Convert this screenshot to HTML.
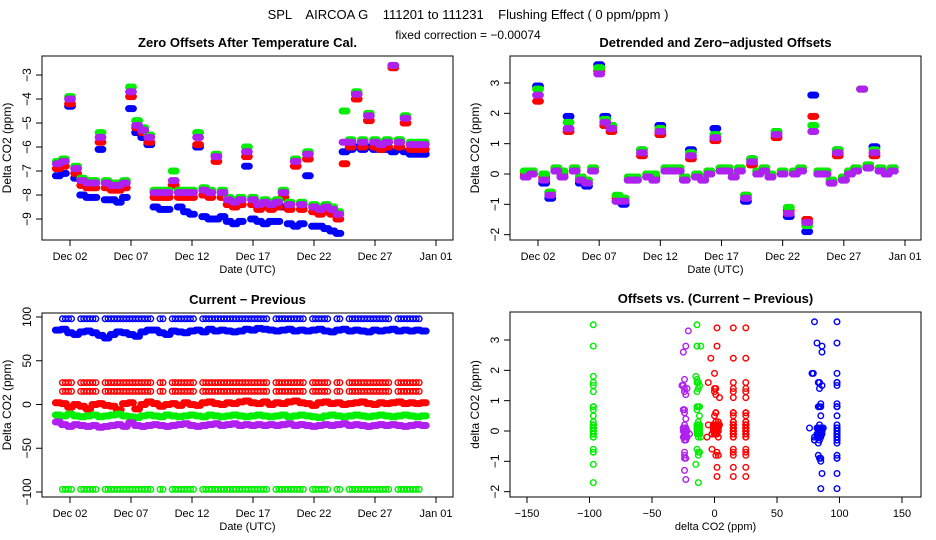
<!DOCTYPE html>
<html><head><meta charset="utf-8"><style>
html,body{margin:0;padding:0;background:#fff;}
svg{display:block;font-family:"Liberation Sans",sans-serif;}
.pre{white-space:pre;}
</style></head><body>
<svg id="chart" width="936" height="540" viewBox="0 0 936 540">
<text class="pre" x="468" y="19" text-anchor="middle" font-size="13">SPL    AIRCOA G    111201 to 111231    Flushing Effect ( 0 ppm/ppm )</text>
<text x="468" y="39" text-anchor="middle" font-size="12">fixed correction = −0.00074</text>
</svg>
<script>
const days=[1,1.5,2,2.5,3,3.5,4,4.5,5,5.5,6,6.5,7,7.5,8,8.5,9,9.5,10,10.5,11,11.5,12,12.5,13,13.5,14,14.5,15,15.5,16,16.5,17,17.5,18,18.5,19,19.5,20,20.5,21,21.5,22,22.5,23,23.5,24,24.5,25,25.5,26,26.5,27,27.5,28,28.5,29,29.5,30,30.5,31];
const dateTickDays=[2,7,12,17,22,27,32];
const dateTickLabels=["Dec 02","Dec 07","Dec 12","Dec 17","Dec 22","Dec 27","Jan 01"];
// Panel 1: zero offsets
const p1Blue=[-7.2,-7.1,-4.3,-7.3,-8.0,-8.1,-8.1,-6.1,-8.2,-8.2,-8.3,-8.1,-4.4,-5.4,-5.6,-5.9,-8.5,-8.6,-8.6,-7.6,-8.5,-8.7,-8.8,-6.0,-8.9,-9.0,-9.0,-8.9,-9.1,-9.2,-9.1,-6.8,-9.0,-9.1,-9.2,-9.1,-9.1,-8.5,-9.2,-9.3,-9.2,-7.2,-9.3,-9.3,-9.4,-9.5,-9.6,-6.2,-6.1,-6.0,-6.1,-6.0,-6.1,-6.1,-6.1,-6.2,-6.1,-6.2,-6.3,-6.3,-6.3];
const p1Red=[-6.9,-6.8,-4.2,-7.1,-7.6,-7.7,-7.7,-5.8,-7.7,-7.8,-7.8,-7.7,-3.9,-5.2,-5.4,-5.8,-8.1,-8.1,-8.1,-7.6,-8.1,-8.1,-8.1,-5.9,-8.0,-8.1,-6.6,-8.1,-8.4,-8.5,-8.4,-6.4,-8.4,-8.6,-8.5,-8.6,-8.5,-8.1,-8.6,-6.8,-8.6,-6.5,-8.7,-8.8,-8.7,-8.8,-9.0,-6.7,-6.0,-4.0,-6.0,-4.9,-6.0,-6.1,-6.0,-2.7,-6.0,-5.0,-6.1,-6.1,-6.1];
const p1Green=[-6.6,-6.5,-3.9,-6.8,-7.3,-7.4,-7.4,-5.4,-7.4,-7.5,-7.5,-7.4,-3.5,-4.9,-5.2,-5.5,-7.8,-7.8,-7.8,-7.0,-7.8,-7.8,-7.8,-5.4,-7.7,-7.8,-6.3,-7.8,-8.1,-8.2,-8.1,-6.0,-8.1,-8.3,-8.2,-8.3,-8.2,-7.8,-8.3,-6.5,-8.3,-6.2,-8.4,-8.5,-8.4,-8.5,-8.7,-4.5,-5.7,-3.7,-5.7,-4.6,-5.7,-5.8,-5.7,-2.6,-5.7,-4.7,-5.8,-5.8,-5.8];
const p1Purple=[-6.7,-6.6,-4.0,-6.9,-7.4,-7.5,-7.5,-5.6,-7.5,-7.6,-7.6,-7.5,-3.7,-5.1,-5.3,-5.6,-7.9,-7.9,-7.9,-7.4,-7.9,-7.9,-7.9,-5.6,-7.8,-7.9,-6.4,-7.9,-8.2,-8.3,-8.2,-6.2,-8.2,-8.4,-8.3,-8.4,-8.3,-7.9,-8.4,-6.6,-8.4,-6.3,-8.5,-8.6,-8.5,-8.6,-8.8,-5.8,-5.8,-3.8,-5.8,-4.7,-5.8,-5.9,-5.8,-2.6,-5.8,-4.8,-5.9,-5.9,-5.9];
const p1YTicks=[-9,-8,-7,-6,-5,-4,-3];
// Panel 2: detrended offsets
const p2Blue=[-0.1,0,2.9,-0.3,-0.8,0.1,-0.1,1.9,0.1,-0.3,-0.4,0.1,3.6,1.9,1.6,-0.9,-1.0,-0.2,-0.2,0.8,-0.1,-0.2,1.6,0.1,0.1,0.1,-0.2,0.8,-0.1,-0.2,0,1.5,0.1,0.1,-0.1,0.1,-0.9,0.5,0,0.1,-0.1,1.4,0,-1.4,0,0.1,-1.9,2.6,0,0,-0.3,0.8,-0.2,0,0.1,2.8,0.2,0.9,0.1,0,0.1];
const p2Red=[0,0.1,2.4,-0.1,-0.6,0.2,0,1.4,0.2,-0.1,-0.2,0.2,3.4,1.6,1.4,-0.8,-0.8,-0.1,-0.1,0.6,0,-0.1,1.3,0.2,0.2,0.2,-0.1,0.5,0,-0.1,0.1,1.1,0.2,0.2,0,0.2,-0.7,0.3,0.1,0.2,0,1.2,0.1,-1.2,0.1,0.2,-1.5,1.9,0.1,0.1,-0.2,0.6,-0.1,0.1,0.2,2.8,0.3,0.6,0.2,0.1,0.2];
const p2Green=[0.1,0.1,2.8,0,-0.6,0.2,0.1,1.7,0.2,-0.1,-0.2,0.2,3.5,1.8,1.6,-0.7,-0.8,-0.1,-0.1,0.8,0,0,1.5,0.2,0.2,0.2,-0.1,0.7,0,-0.1,0.1,1.3,0.2,0.2,0,0.2,-0.7,0.5,0.1,0.2,0,1.4,0.1,-1.1,0.1,0.2,-1.7,1.6,0.1,0.1,-0.2,0.8,-0.1,0.1,0.2,2.8,0.3,0.8,0.2,0.1,0.2];
const p2Purple=[-0.1,0,2.6,-0.2,-0.7,0.1,-0.1,1.5,0.1,-0.2,-0.3,0.1,3.3,1.7,1.5,-0.9,-0.9,-0.2,-0.2,0.7,-0.1,-0.2,1.4,0.1,0.1,0.1,-0.2,0.6,-0.1,-0.2,0,1.2,0.1,0.1,-0.1,0.1,-0.8,0.4,0,0.1,-0.1,1.3,0,-1.3,0,0.1,-1.6,1.4,0,0,-0.3,0.7,-0.2,0,0.1,2.8,0.2,0.7,0.1,0,0.1];
const p2YTicks=[-2,-1,0,1,2,3];
// Panel 3: current - previous
const p3Blue=[85,86,82,80,83,84,82,79,76,80,83,82,80,78,83,85,85,82,80,84,83,82,84,85,83,86,84,85,84,83,84,86,85,87,86,85,84,85,86,84,85,84,85,86,84,83,85,86,84,85,84,83,85,84,85,86,84,85,84,85,84];
const p3Red=[2,1,-3,0,-2,-5,0,1,-1,-2,-6,1,2,-5,0,3,1,-2,0,1,-1,2,0,-1,2,3,1,0,2,1,3,4,2,1,3,0,2,1,3,4,2,1,-1,2,3,1,2,0,1,2,3,1,0,2,1,2,3,1,2,1,2];
const p3Green=[-12,-13,-11,-13,-14,-13,-12,-14,-13,-12,-11,-13,-14,-15,-13,-12,-13,-14,-12,-13,-14,-13,-12,-13,-14,-12,-13,-14,-13,-12,-13,-14,-13,-12,-13,-14,-13,-12,-14,-13,-12,-13,-14,-15,-13,-12,-13,-14,-13,-12,-13,-14,-13,-12,-13,-14,-13,-12,-13,-14,-13];
const p3Purple=[-20,-23,-25,-23,-24,-25,-24,-26,-25,-24,-23,-25,-21,-24,-25,-24,-23,-24,-25,-24,-23,-22,-24,-25,-24,-23,-22,-24,-23,-22,-24,-23,-24,-23,-24,-23,-24,-23,-22,-24,-23,-24,-25,-24,-23,-24,-23,-22,-24,-23,-24,-25,-24,-23,-24,-23,-24,-25,-24,-23,-24];
const outlierDays=[1.5,2,3,3.5,4,5,5.5,6,6.5,7,7.5,8,8.5,9.5,10.5,11,11.5,12,13,13.5,14,14.5,15,15.5,16,16.5,17,17.5,18,19,19.5,20,20.5,21,22,22.5,23,24,25,25.5,26,26.5,27,27.5,28,29,29.5,30,30.5];
const outlierLevels=[98,25,15,-97];
const outlierColorIdx=[0,1,1,2];
const p3YTicks=[-100,-50,0,50,100];
const p4XTicks=[-150,-100,-50,0,50,100,150];

const colors=["#0000ff","#ff0000","#00ee00","#b020f0"];
const colorNames=["blue","red","green","purple"];
const svg=document.getElementById('chart');
const NS="http://www.w3.org/2000/svg";
function el(tag,attrs,parent){const e=document.createElementNS(NS,tag);for(const k in attrs)e.setAttribute(k,attrs[k]);(parent||svg).appendChild(e);return e;}
function lin(d0,d1,r0,r1){return v=>r0+(v-d0)*(r1-r0)/(d1-d0);}

const panels=[
 {key:"zero-offsets",box:[42,56,453,240],title:"Zero Offsets After Temperature Cal.",x:lin(2,32,70,436),y:lin(-3,-9,75,219),yt:p1YTicks,ylab:"Delta CO2 (ppm)",xlab:"Date (UTC)",dates:true},
 {key:"detrended-offsets",box:[510,56,921,240],title:"Detrended and Zero−adjusted Offsets",x:lin(2,32,538,905),y:lin(0,3,174,83),yt:p2YTicks,ylab:"Delta CO2 (ppm)",xlab:"Date (UTC)",dates:true},
 {key:"current-previous",box:[42,313,453,497],title:"Current − Previous",x:lin(2,32,70,436),y:lin(100,-100,317,492),yt:p3YTicks,ylab:"Delta CO2 (ppm)",xlab:"Date (UTC)",dates:true},
 {key:"offsets-vs-diff",box:[510,312,921,497],title:"Offsets vs. (Current − Previous)",x:lin(-150,150,527,902),y:lin(0,3,431,340),yt:p2YTicks,ylab:"delta CO2 (ppm)",xlab:"delta CO2 (ppm)",dates:false}
];

panels.forEach(p=>{
 const g=el('g',{});
 
 
 p.g=g;
 const [x0,y0,x1,y1]=p.box;
 const t=el('text',{x:(x0+x1)/2,y:y0-9,'text-anchor':'middle','font-size':13,'font-weight':'bold'},g);
 t.textContent=p.title;
 
 
 p.plot=el('g',{},g);
 
 
 const b=el('rect',{x:x0,y:y0,width:x1-x0,height:y1-y0,fill:'none',stroke:'#000','stroke-width':1},g);
 
 
 const ya=el('g',{},g);
 
 
 p.yt.forEach(v=>{const yy=p.y(v);
  el('line',{x1:x0,x2:x0-6,y1:yy,y2:yy,stroke:'#000'},ya);
  const tl=el('text',{x:x0-11,y:yy,'text-anchor':'middle','font-size':12,transform:`rotate(-90 ${x0-11} ${yy})`},ya);
  tl.textContent=v<0?'−'+(-v):String(v);
  
  
 });
 const yl=el('text',{x:x0-31,y:(y0+y1)/2,'text-anchor':'middle','font-size':12,transform:`rotate(-90 ${x0-31} ${(y0+y1)/2})`},g);
 yl.textContent=p.ylab;
 
 
 const xa=el('g',{},g);
 
 
 const tv=p.dates?dateTickDays:p4XTicks;
 tv.forEach((v,i)=>{const xx=p.x(v);
  el('line',{x1:xx,x2:xx,y1:y1,y2:y1+6,stroke:'#000'},xa);
  const tl=el('text',{x:xx,y:y1+20,'text-anchor':'middle','font-size':11},xa);
  tl.textContent=p.dates?dateTickLabels[i]:(v<0?'−'+(-v):String(v));
  
  
 });
 const xl=el('text',{x:(x0+x1)/2,y:y1+33,'text-anchor':'middle','font-size':11},g);
 xl.textContent=p.xlab;
 
 
});

function pt(p,px,py,ci){
 const c=el('circle',{cx:px.toFixed(1),cy:py.toFixed(1),r:2.8,fill:'none',stroke:colors[ci],'stroke-width':1.4},p.plot);
 
 
}
const spread=[-0.2,-0.1,0,0.1,0.2];
function band(p,ds,vs,ci){
 ds.forEach((d,i)=>spread.forEach(s=>pt(p,p.x(d+s),p.y(vs[i]),ci)));
}
[p1Blue,p1Red,p1Green,p1Purple].forEach((s,ci)=>band(panels[0],days,s,ci));
[p2Blue,p2Red,p2Green,p2Purple].forEach((s,ci)=>band(panels[1],days,s,ci));
outlierLevels.forEach((lv,k)=>outlierDays.forEach(d=>{pt(panels[2],panels[2].x(d-0.12),panels[2].y(lv),outlierColorIdx[k]);pt(panels[2],panels[2].x(d+0.12),panels[2].y(lv),outlierColorIdx[k]);}));
[p3Blue,p3Red,p3Green,p3Purple].forEach((s,ci)=>band(panels[2],days,s,ci));
const p2All=[p2Blue,p2Red,p2Green,p2Purple];
function nearest(d){let bi=0;days.forEach((v,i)=>{if(Math.abs(v-d)<Math.abs(days[bi]-d))bi=i;});return bi;}
outlierLevels.forEach((lv,k)=>outlierDays.forEach(d=>{const ci=outlierColorIdx[k];pt(panels[3],panels[3].x(lv),panels[3].y(p2All[ci][nearest(d)]),ci);}));
[p3Blue,p3Red,p3Green,p3Purple].forEach((s,ci)=>s.forEach((v,i)=>pt(panels[3],panels[3].x(v),panels[3].y(p2All[ci][i]),ci)));
</script>
</body></html>
